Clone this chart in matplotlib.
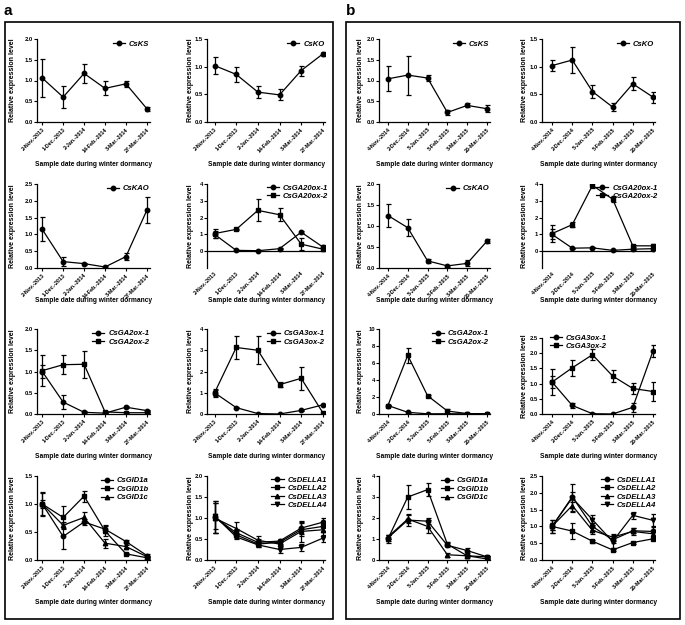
import matplotlib
matplotlib.use('Agg')
import matplotlib.pyplot as plt
from matplotlib.patches import Rectangle
import numpy as np

plt.rcParams['font.family'] = ['Liberation Sans', 'DejaVu Sans']
plt.rcParams['font.weight'] = 'bold'

# sample dates (x categories)
dates_a = ['2-Nov.-2013', '1-Dec.-2013', '2-Jan.-2014', '14-Feb.-2014', '3-Mar.-2014', '27-Mar.-2014']
dates_b = ['4-Nov.-2014', '2-Dec.-2014', '5-Jan.-2015', '5-Feb.-2015', '3-Mar.-2015', '26-Mar.-2015']

# ---- panel a (2013/2014) ----
ks_a = [1.06, 0.60, 1.17, 0.81, 0.92, 0.32]
ks_a_sd = [0.46, 0.27, 0.22, 0.17, 0.08, 0.05]
ko_a = [1.02, 0.86, 0.54, 0.49, 0.93, 1.23]
ko_a_sd = [0.16, 0.13, 0.11, 0.10, 0.09, 0.04]
kao_a = [1.15, 0.19, 0.13, 0.03, 0.34, 1.72]
kao_a_sd = [0.36, 0.14, 0.03, 0.02, 0.10, 0.38]
ga20ox1_a = [1.00, 0.05, 0.03, 0.15, 1.13, 0.25]
ga20ox1_a_sd = [0.20, 0.03, 0.02, 0.03, 0.05, 0.10]
ga20ox2_a = [1.05, 1.30, 2.43, 2.17, 0.42, 0.12]
ga20ox2_a_sd = [0.25, 0.05, 0.65, 0.40, 0.35, 0.10]
ga2ox1_a = [1.00, 0.28, 0.04, 0.02, 0.16, 0.08]
ga2ox1_a_sd = [0.15, 0.17, 0.02, 0.01, 0.03, 0.02]
ga2ox2_a = [1.02, 1.16, 1.17, 0.05, 0.03, 0.03]
ga2ox2_a_sd = [0.36, 0.23, 0.32, 0.03, 0.01, 0.01]
ga3ox1_a = [1.00, 0.30, 0.02, 0.00, 0.17, 0.43]
ga3ox1_a_sd = [0.20, 0.03, 0.01, 0.01, 0.03, 0.03]
ga3ox2_a = [1.00, 3.13, 3.00, 1.38, 1.68, 0.06]
ga3ox2_a_sd = [0.15, 0.55, 0.67, 0.13, 0.55, 0.03]
gid1a_a = [1.00, 0.42, 0.68, 0.55, 0.33, 0.08]
gid1a_a_sd = [0.22, 0.23, 0.05, 0.06, 0.03, 0.02]
gid1b_a = [1.00, 0.76, 1.14, 0.52, 0.11, 0.04]
gid1b_a_sd = [0.20, 0.20, 0.10, 0.10, 0.02, 0.02]
gid1c_a = [1.00, 0.62, 0.76, 0.30, 0.24, 0.06]
gid1c_a_sd = [0.08, 0.05, 0.10, 0.08, 0.02, 0.02]
della1_a = [1.02, 0.65, 0.42, 0.45, 0.76, 0.90]
della1_a_sd = [0.38, 0.08, 0.08, 0.06, 0.15, 0.10]
della2_a = [1.03, 0.60, 0.38, 0.42, 0.72, 0.80]
della2_a_sd = [0.38, 0.08, 0.08, 0.06, 0.15, 0.10]
della3_a = [1.00, 0.75, 0.47, 0.38, 0.68, 0.72]
della3_a_sd = [0.35, 0.15, 0.10, 0.08, 0.25, 0.15]
della4_a = [1.05, 0.55, 0.36, 0.25, 0.30, 0.52]
della4_a_sd = [0.30, 0.06, 0.06, 0.08, 0.08, 0.08]

# ---- panel b (2014/2015) ----
ks_b = [1.04, 1.13, 1.06, 0.23, 0.40, 0.32]
ks_b_sd = [0.30, 0.47, 0.08, 0.06, 0.05, 0.08]
ko_b = [1.02, 1.12, 0.55, 0.27, 0.69, 0.45]
ko_b_sd = [0.10, 0.24, 0.11, 0.08, 0.12, 0.10]
kao_b = [1.25, 0.96, 0.17, 0.05, 0.11, 0.64]
kao_b_sd = [0.28, 0.20, 0.04, 0.02, 0.07, 0.05]
ga20ox1_b = [1.00, 0.18, 0.20, 0.05, 0.12, 0.15]
ga20ox1_b_sd = [0.30, 0.03, 0.03, 0.02, 0.03, 0.05]
ga20ox2_b = [1.05, 1.58, 3.92, 3.10, 0.32, 0.32]
ga20ox2_b_sd = [0.50, 0.15, 0.15, 0.20, 0.05, 0.10]
ga2ox1_b = [1.00, 0.20, 0.02, 0.03, 0.02, 0.01]
ga2ox1_b_sd = [0.05, 0.05, 0.01, 0.01, 0.01, 0.01]
ga2ox2_b = [1.00, 6.90, 2.15, 0.35, 0.05, 0.03]
ga2ox2_b_sd = [0.10, 0.90, 0.10, 0.25, 0.02, 0.02]
ga3ox1_b = [1.05, 0.28, 0.01, 0.00, 0.22, 2.07]
ga3ox1_b_sd = [0.20, 0.07, 0.01, 0.01, 0.15, 0.20]
ga3ox2_b = [1.05, 1.52, 1.95, 1.25, 0.84, 0.74]
ga3ox2_b_sd = [0.43, 0.27, 0.18, 0.20, 0.17, 0.30]
gid1a_b = [1.05, 1.90, 1.85, 0.70, 0.45, 0.15]
gid1a_b_sd = [0.15, 0.30, 0.15, 0.10, 0.10, 0.03]
gid1b_b = [1.00, 3.00, 3.35, 0.75, 0.20, 0.15]
gid1b_b_sd = [0.20, 0.55, 0.30, 0.10, 0.05, 0.05]
gid1c_b = [1.10, 1.95, 1.60, 0.25, 0.20, 0.05]
gid1c_b_sd = [0.10, 0.20, 0.30, 0.10, 0.03, 0.02]
della1_b = [1.00, 1.88, 1.00, 0.60, 0.87, 0.85]
della1_b_sd = [0.10, 0.15, 0.10, 0.10, 0.08, 0.15]
della2_b = [1.00, 0.86, 0.56, 0.30, 0.52, 0.63]
della2_b_sd = [0.20, 0.23, 0.05, 0.02, 0.03, 0.03]
della3_b = [1.00, 1.62, 0.88, 0.68, 0.85, 0.78]
della3_b_sd = [0.10, 0.20, 0.10, 0.10, 0.10, 0.10]
della4_b = [1.00, 1.85, 1.20, 0.55, 1.33, 1.18]
della4_b_sd = [0.20, 0.40, 0.15, 0.20, 0.10, 0.20]

W, H = 685, 625
fig = plt.figure(figsize=(W / 100, H / 100), dpi=100)

cols = [(37, 150), (207, 325), (379, 490), (542, 655)]
xlims = [(-0.25, 5.15), (-0.35, 5.1), (-0.45, 5.15), (-0.5, 5.1)]
ylab_x = [13, 190, 360, 525]
rows = [(39, 122), (184, 268), (329, 414), (476, 560)]
xlab_y = [165, 301, 456, 602]


def draw(col, row, dates, series, ylim, yticks, fmt, zero=False,
         loc='upper right', anchor=(1.04, 1.05), top=None):
    l, r = cols[col]
    t, b = rows[row]
    if top is not None:
        t = top
    ax = fig.add_axes([l / W, 1 - b / H, (r - l) / W, (b - t) / H])
    x = np.arange(len(dates))
    for name, mean, sd, mk in series:
        ax.errorbar(x, mean, yerr=sd, fmt='none', ecolor='k', elinewidth=0.9,
                    capsize=1.8, capthick=0.9)
        ax.plot(x, mean, color='k', lw=0.9, marker=mk, ms=3.2, label=name)
    ax.set_xlim(*xlims[col])
    ax.set_ylim(*ylim)
    ax.set_yticks(yticks)
    ax.set_yticklabels([fmt % v for v in yticks])
    ax.set_xticks(x)
    ax.set_xticklabels(dates, rotation=45, ha='right', va='top',
                       rotation_mode='anchor', fontsize=3.9)
    ax.spines['top'].set_visible(False)
    ax.spines['right'].set_visible(False)
    ax.spines['left'].set_linewidth(0.9)
    ax.spines['bottom'].set_linewidth(0.9)
    ax.tick_params(axis='y', labelsize=4.2, length=2, width=0.8, pad=1)
    ax.tick_params(axis='x', length=2, width=0.8, pad=1.5)
    if zero:
        ax.spines['bottom'].set_visible(False)
        ax.axhline(0, color='k', lw=0.9)
        ax.tick_params(axis='x', length=0, pad=2)
    ax.legend(loc=loc, bbox_to_anchor=anchor, frameon=False, handlelength=1.6,
              handletextpad=0.5, labelspacing=0.15, borderpad=0.2,
              prop={'size': 5.5, 'weight': 'bold', 'style': 'italic'})
    fig.text(ylab_x[col] / W, 1 - ((t + b) / 2) / H, 'Relative expression level',
             rotation=90, ha='center', va='center', fontsize=5, fontweight='bold')
    fig.text(((l + r) / 2) / W, 1 - xlab_y[row] / H, 'Sample date during winter dormancy',
             ha='center', va='center', fontsize=4.8, fontweight='bold')
    return ax


h05 = [0, 0.5, 1.0, 1.5]
# panel a
draw(0, 0, dates_a, [('CsKS', ks_a, ks_a_sd, 'o')], (0, 2), h05 + [2.0], '%.1f')
draw(1, 0, dates_a, [('CsKO', ko_a, ko_a_sd, 'o')], (0, 1.5), h05, '%.1f')
draw(0, 1, dates_a, [('CsKAO', kao_a, kao_a_sd, 'o')], (0, 2.5), h05 + [2.0, 2.5], '%.1f')
draw(1, 1, dates_a, [('CsGA20ox-1', ga20ox1_a, ga20ox1_a_sd, 'o'),
                     ('CsGA20ox-2', ga20ox2_a, ga20ox2_a_sd, 's')],
     (-1, 4), [0, 1, 2, 3, 4], '%d', zero=True, anchor=(1.07, 1.06))
draw(0, 2, dates_a, [('CsGA2ox-1', ga2ox1_a, ga2ox1_a_sd, 'o'),
                     ('CsGA2ox-2', ga2ox2_a, ga2ox2_a_sd, 's')],
     (0, 2), h05 + [2.0], '%.1f')
draw(1, 2, dates_a, [('CsGA3ox-1', ga3ox1_a, ga3ox1_a_sd, 'o'),
                     ('CsGA3ox-2', ga3ox2_a, ga3ox2_a_sd, 's')],
     (0, 4), [0, 1, 2, 3, 4], '%d')
draw(0, 3, dates_a, [('CsGID1a', gid1a_a, gid1a_a_sd, 'o'),
                     ('CsGID1b', gid1b_a, gid1b_a_sd, 's'),
                     ('CsGID1c', gid1c_a, gid1c_a_sd, '^')],
     (0, 1.5), h05, '%.1f')
draw(1, 3, dates_a, [('CsDELLA1', della1_a, della1_a_sd, 'o'),
                     ('CsDELLA2', della2_a, della2_a_sd, 's'),
                     ('CsDELLA3', della3_a, della3_a_sd, '^'),
                     ('CsDELLA4', della4_a, della4_a_sd, 'v')],
     (0, 2), h05 + [2.0], '%.1f', anchor=(1.06, 1.06))
# panel b
draw(2, 0, dates_b, [('CsKS', ks_b, ks_b_sd, 'o')], (0, 2), h05 + [2.0], '%.1f')
draw(3, 0, dates_b, [('CsKO', ko_b, ko_b_sd, 'o')], (0, 1.5), h05, '%.1f')
draw(2, 1, dates_b, [('CsKAO', kao_b, kao_b_sd, 'o')], (0, 2), h05 + [2.0], '%.1f')
draw(3, 1, dates_b, [('CsGA20ox-1', ga20ox1_b, ga20ox1_b_sd, 'o'),
                     ('CsGA20ox-2', ga20ox2_b, ga20ox2_b_sd, 's')],
     (-1, 4), [0, 1, 2, 3, 4], '%d', zero=True, anchor=(1.07, 1.06))
draw(2, 2, dates_b, [('CsGA2ox-1', ga2ox1_b, ga2ox1_b_sd, 'o'),
                     ('CsGA2ox-2', ga2ox2_b, ga2ox2_b_sd, 's')],
     (0, 10), [0, 2, 4, 6, 8, 10], '%d')
draw(3, 2, dates_b, [('CsGA3ox-1', ga3ox1_b, ga3ox1_b_sd, 'o'),
                     ('CsGA3ox-2', ga3ox2_b, ga3ox2_b_sd, 's')],
     (0, 2.5), h05 + [2.0, 2.5], '%.1f', loc='upper left', anchor=(0.02, 1.12), top=338)
draw(2, 3, dates_b, [('CsGID1a', gid1a_b, gid1a_b_sd, 'o'),
                     ('CsGID1b', gid1b_b, gid1b_b_sd, 's'),
                     ('CsGID1c', gid1c_b, gid1c_b_sd, '^')],
     (0, 4), [0, 1, 2, 3, 4], '%d')
draw(3, 3, dates_b, [('CsDELLA1', della1_b, della1_b_sd, 'o'),
                     ('CsDELLA2', della2_b, della2_b_sd, 's'),
                     ('CsDELLA3', della3_b, della3_b_sd, '^'),
                     ('CsDELLA4', della4_b, della4_b_sd, 'v')],
     (0, 2.5), h05 + [2.0, 2.5], '%.1f', anchor=(1.06, 1.06))

# outer boxes and panel letters
for x0, x1 in [(5, 333), (346, 680)]:
    fig.add_artist(Rectangle((x0 / W, 1 - 619 / H), (x1 - x0) / W, (619 - 22) / H,
                             transform=fig.transFigure, fill=False, lw=1.2, ec='k'))
fig.text(4 / W, 1 - 11 / H, 'a', fontsize=11, fontweight='bold', va='center')
fig.text(346 / W, 1 - 11 / H, 'b', fontsize=11, fontweight='bold', va='center')

fig.savefig('out.png', dpi=100)
